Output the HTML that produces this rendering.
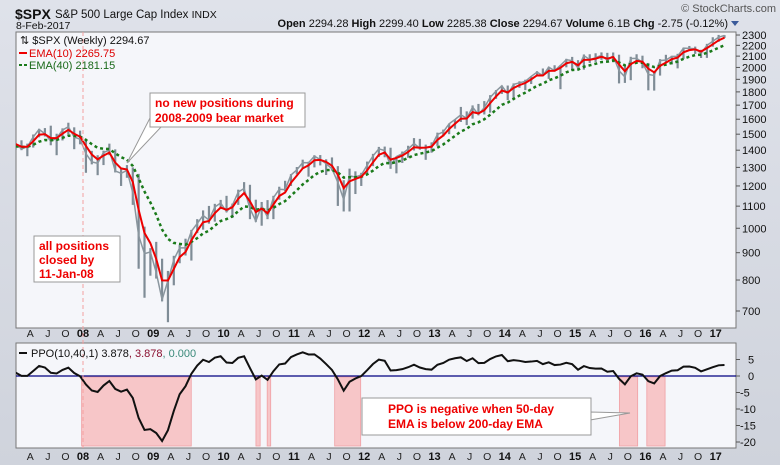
<!DOCTYPE html>
<html><head><meta charset="utf-8">
<style>
html,body{margin:0;padding:0;background:#d5d9e2;}
svg{display:block;font-family:"Liberation Sans",sans-serif;}
</style></head>
<body>
<svg id="chart" width="780" height="465" viewBox="0 0 780 465">
<defs>
<linearGradient id="bg" x1="0" y1="0" x2="0" y2="1"><stop offset="0" stop-color="#dfe2ea"/><stop offset="1" stop-color="#cfd3dc"/></linearGradient>
<clipPath id="cp1"><rect x="16" y="32" width="720" height="296"/></clipPath>
<clipPath id="cp2"><rect x="16" y="343" width="720" height="105"/></clipPath>
</defs>
<rect width="780" height="465" fill="url(#bg)"/>
<text x="15" y="19" font-size="14" font-weight="bold" fill="#111">$SPX</text>
<text x="55" y="18" font-size="11.5" fill="#111">S&amp;P 500 Large Cap Index <tspan font-size="10.5">INDX</tspan></text>
<text x="16" y="29" font-size="10.5" fill="#111">8-Feb-2017</text>
<text x="776" y="12" font-size="11" fill="#555" text-anchor="end">© StockCharts.com</text>
<text x="728" y="27" font-size="11" fill="#111" text-anchor="end"><tspan font-weight="bold">Open</tspan> 2294.28 <tspan font-weight="bold">High</tspan> 2299.40 <tspan font-weight="bold">Low</tspan> 2285.38 <tspan font-weight="bold">Close</tspan> 2294.67 <tspan font-weight="bold">Volume</tspan> 6.1B <tspan font-weight="bold">Chg</tspan> -2.75 (-0.12%)</text>
<path d="M731 21 l8 0 l-4 5 z" fill="#3a5a9a"/>
<rect x="16" y="32" width="720" height="296" fill="#f5f6fa" stroke="#777"/>
<rect x="16" y="343" width="720" height="105" fill="#f5f6fa" stroke="#777"/>
<g id="shades"></g>
<g id="axes"></g>
<g id="price" clip-path="url(#cp1)"></g>
<g id="ppo" clip-path="url(#cp2)"></g>
<line x1="83" y1="32" x2="83" y2="448" stroke="#f4a0a0" stroke-dasharray="4,3"/>
<text x="20" y="44" font-size="11" fill="#111">⇅ $SPX (Weekly) 2294.67</text>
<line x1="19" y1="53" x2="27" y2="53" stroke="#e00" stroke-width="2"/>
<text x="29" y="57" font-size="11" fill="#d00">EMA(10) 2265.75</text>
<line x1="19" y1="65" x2="27" y2="65" stroke="#1a7a1a" stroke-width="2" stroke-dasharray="3,2"/>
<text x="29" y="69" font-size="11" fill="#1a6a1a">EMA(40) 2181.15</text>
<line x1="19" y1="353" x2="27" y2="353" stroke="#111" stroke-width="2"/>
<text x="31" y="357" font-size="11" fill="#111">PPO(10,40,1) 3.878<tspan fill="#8a1030">, 3.878</tspan><tspan fill="#3a8a7a">, 0.000</tspan></text>
<g>
<path d="M150 118 L127 163 L162 126 Z" fill="#fff" stroke="#999"/>
<rect x="150" y="93" width="155" height="34" fill="#fff" stroke="#999"/>
<text x="155" y="107" font-size="12" font-weight="bold" fill="#e00">no new positions during</text>
<text x="155" y="122" font-size="12" font-weight="bold" fill="#e00">2008-2009 bear market</text>
</g>
<g>
<rect x="34" y="236" width="86" height="46" fill="#fff" stroke="#999"/>
<text x="39" y="250" font-size="12" font-weight="bold" fill="#e00">all positions</text>
<text x="39" y="264" font-size="12" font-weight="bold" fill="#e00">closed by</text>
<text x="39" y="278" font-size="12" font-weight="bold" fill="#e00">11-Jan-08</text>
</g>
<g>
<path d="M590 412 L630 413 L590 420 Z" fill="#fff" stroke="#999"/>
<rect x="362" y="398" width="229" height="37" fill="#fff" stroke="#999"/>
<text x="388" y="413" font-size="12" font-weight="bold" fill="#e00">PPO is negative when 50-day</text>
<text x="388" y="428" font-size="12" font-weight="bold" fill="#e00">EMA is below 200-day EMA</text>
</g>
</svg>
<script>
// monthly closes Jan 2007 .. Feb 2017
const closes=[1438,1407,1421,1482,1531,1503,1455,1474,1527,1549,1481,1468,
1379,1331,1323,1386,1400,1280,1267,1283,1166,969,896,903,
826,735,798,873,919,919,987,1021,1057,1036,1096,1115,
1074,1104,1169,1187,1089,1031,1102,1049,1141,1183,1181,1258,
1286,1327,1326,1364,1345,1321,1292,1219,1131,1253,1247,1258,
1312,1366,1408,1398,1310,1362,1379,1407,1441,1412,1416,1426,
1498,1515,1569,1598,1631,1606,1686,1633,1682,1757,1806,1848,
1783,1859,1872,1884,1924,1960,1931,2003,1972,2018,2068,2059,
1995,2105,2068,2086,2107,2063,2104,1972,1920,2079,2080,2044,
1940,1932,2060,2065,2097,2099,2174,2171,2168,2126,2199,2239,
2279,2295];
const highs=[1441,1461,1440,1498,1535,1540,1556,1503,1538,1576,1545,1523,
1471,1396,1370,1397,1440,1405,1292,1313,1300,1264,1007,918,
943,877,832,888,930,956,993,1040,1080,1101,1111,1130,
1150,1112,1181,1220,1206,1131,1120,1129,1150,1196,1227,1263,
1302,1344,1332,1370,1371,1346,1357,1307,1230,1293,1278,1270,
1333,1378,1420,1422,1415,1363,1392,1427,1475,1470,1434,1448,
1510,1530,1570,1598,1687,1655,1698,1709,1730,1775,1814,1849,
1850,1867,1884,1897,1925,1968,1991,2005,2019,2018,2076,2093,
2064,2115,2117,2126,2134,2130,2133,2113,2021,2094,2117,2104,
2039,1963,2073,2112,2103,2121,2178,2194,2188,2158,2214,2278,
2301,2299];
const lows=[1403,1400,1364,1416,1480,1485,1430,1370,1460,1500,1406,1436,
1270,1317,1257,1313,1370,1272,1200,1243,1106,840,741,815,
805,730,667,782,860,889,870,979,994,1020,1029,1086,
1071,1045,1106,1170,1040,1028,1011,1040,1040,1131,1173,1200,
1262,1294,1249,1300,1311,1258,1282,1101,1075,1075,1159,1200,
1259,1307,1360,1358,1292,1267,1325,1355,1398,1403,1343,1385,
1426,1486,1500,1536,1581,1560,1604,1627,1633,1646,1747,1784,
1737,1737,1832,1814,1862,1926,1930,1904,1964,1821,2001,1973,
1981,1981,2039,2048,2067,2056,2045,1867,1871,1893,2040,1993,
1812,1810,1931,2034,2025,1992,2075,2147,2120,2083,2084,2187,
2233,2271];
const priceTicks=[700,800,900,1000,1100,1200,1300,1400,1500,1600,1700,1800,1900,2000,2100,2200,2300];
const ppoTicks=[5,0,-5,-10,-15,-20];
const yearLabels=["08","09","10","11","12","13","14","15","16","17"];
const monthLabels=["A","J","O"];
const shadeStart=[2007.98,2010.46,2010.62,2011.58,2015.63,2016.02];
const shadeEnd=[2009.54,2010.52,2010.67,2011.95,2015.89,2016.28];

const NS="http://www.w3.org/2000/svg";
function mk(tag,attrs,parent){const e=document.createElementNS(NS,tag);for(const k in attrs)e.setAttribute(k,attrs[k]);parent.appendChild(e);return e;}
const xYear=y=>83+70.3*(y-2008);
const xIdx=i=>xYear(2007+(i+0.5)/12);
const yPrice=v=>311-232*Math.log(v/700);
const yPPO=v=>376-3.3*v;
const gP=document.getElementById('price'),gO=document.getElementById('ppo'),gA=document.getElementById('axes'),gS=document.getElementById('shades');

for(let k=0;k<shadeStart.length;k++){
 const x0=xYear(shadeStart[k]),x1=xYear(shadeEnd[k]);
 const r=mk('rect',{x:x0,y:377,width:Math.max(3,x1-x0),height:69,fill:'#f7c6c8',stroke:'#f0a0a4','stroke-width':0.8},gS);
 
 
}
closes.forEach((c,i)=>{
 const x=xIdx(i);
 const b=mk('line',{x1:x,x2:x,y1:yPrice(highs[i]),y2:yPrice(lows[i]),stroke:'#7f8c96','stroke-width':2.2},gP);
 
 
});
const pl=mk('polyline',{points:closes.map((c,i)=>xIdx(i)+','+yPrice(c)).join(' '),fill:'none',stroke:'#8a969e','stroke-width':1.5},gP);


function ema(arr,a,seed){const out=[];let e=seed;arr.forEach(v=>{e=e+a*(v-e);out.push(e);});return out;}
const e10=ema(closes,0.55,closes[0]);
const e40=ema(closes,0.2,1420);
const l40=mk('polyline',{points:e40.map((v,i)=>xIdx(i)+','+yPrice(v)).join(' '),fill:'none',stroke:'#1a7a1a','stroke-width':2.5,'stroke-dasharray':'3,3'},gP);


const l10=mk('polyline',{points:e10.map((v,i)=>xIdx(i)+','+yPrice(v)).join(' '),fill:'none',stroke:'#e00','stroke-width':2},gP);


const zl=mk('line',{x1:16,x2:736,y1:yPPO(0),y2:yPPO(0),stroke:'#000080','stroke-width':1.2},gO);


const ppo=e10.map((v,i)=>(v-e40[i])/e40[i]*100);
const lp=mk('polyline',{points:ppo.map((v,i)=>xIdx(i)+','+yPPO(v)).join(' '),fill:'none',stroke:'#111','stroke-width':2},gO);


priceTicks.forEach(v=>{
 const y=yPrice(v);
 mk('line',{x1:736,x2:740,y1:y,y2:y,stroke:'#555'},gA);
 const t=mk('text',{x:742,y:y+4,'font-size':11,fill:'#111'},gA);t.textContent=v;
 
 
});
ppoTicks.forEach(v=>{
 const y=yPPO(v);
 mk('line',{x1:736,x2:740,y1:y,y2:y,stroke:'#555'},gA);
 const t=mk('text',{x:v<0?740:748,y:y+4,'font-size':11,fill:'#111'},gA);t.textContent=v;
 
 
});
[337,460].forEach(ty=>{
 for(let yr=2007;yr<=2017;yr++){
  if(yr>=2008){const t=mk('text',{x:xYear(yr),y:ty,'font-size':11,'font-weight':'bold','text-anchor':'middle',fill:'#111'},gA);t.textContent=yearLabels[yr-2008];
   
   }
  monthLabels.forEach((m,j)=>{const x=xYear(yr+0.25*(j+1));if(x>730)return;
   const t=mk('text',{x:x,y:ty,'font-size':10.5,'text-anchor':'middle',fill:'#222'},gA);t.textContent=m;
   
   });
 }
});
</script>
</body></html>
